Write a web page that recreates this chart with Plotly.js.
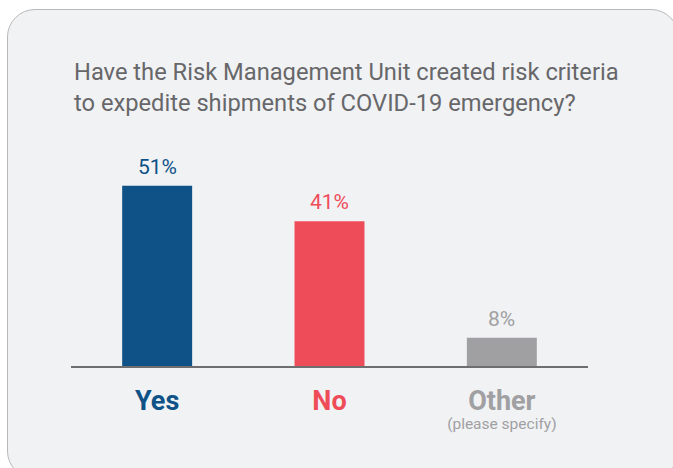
<!DOCTYPE html>
<html>
<head>
<meta charset="utf-8">
<script src="https://cdn.plot.ly/plotly-3.0.1.min.js"></script>
<style>
  html, body { margin: 0; padding: 0; background: #ffffff; }
  #wrap { position: relative; width: 673px; height: 468px; overflow: hidden; }
  #panel { position: absolute; left: 7px; top: 9px; width: 672px; height: 470px;
           background: #f1f2f4; border: 1.5px solid #b9b9bb; border-radius: 28px; box-sizing: border-box; }
  #chart { position: absolute; left: 0; top: 0; width: 673px; height: 468px; }
</style>
</head>
<body>
<div id="wrap">
  <div id="panel"></div>
  <div id="chart"></div>
</div>
<script>
const categories = ["Yes", "No", "Other"];
const subLabels = ["", "", "(please specify)"];
const values = [51, 41, 8];
const valueLabels = ["51%", "41%", "8%"];
const colors = ["#0e5287", "#ef4c5a", "#a0a0a3"];
const titleText = "Have the Risk Management Unit created risk criteria<br>to expedite shipments of COVID-19 emergency?";

const tickText = categories.map((c, i) => {
  let s = "<span style='font-size:27px;color:" + colors[i] + "'><b>" + c + "</b></span>";
  if (subLabels[i]) s += "<br><span style='font-size:15.5px;color:" + colors[i] + "'>" + subLabels[i] + "</span>";
  return s;
});

const trace = {
  type: "bar",
  x: categories,
  y: values,
  marker: { color: colors, line: { width: 0 } },
  width: 0.406,
  hoverinfo: "none"
};

const valueAnnotations = categories.map((c, i) => ({
  x: c,
  y: values[i],
  xref: "x",
  yref: "y",
  text: valueLabels[i],
  showarrow: false,
  xanchor: "center",
  yanchor: "bottom",
  yshift: 5,
  font: { family: "Roboto", size: 21, color: colors[i] }
}));

const layout = {
  width: 673,
  height: 468,
  margin: { l: 71, r: 85, t: 154, b: 102 },
  paper_bgcolor: "rgba(0,0,0,0)",
  plot_bgcolor: "rgba(0,0,0,0)",
  font: { family: "Roboto", color: "#6b6b6d" },
  showlegend: false,
  title: {
    text: titleText,
    font: { family: "Roboto", size: 23.7, color: "#67676a" },
    xref: "container", yref: "container",
    x: 74 / 673, xanchor: "left",
    y: 1 - 80 / 468, yanchor: "top"
  },
  annotations: valueAnnotations,
  xaxis: {
    type: "category",
    range: [-0.5, 2.5],
    tickmode: "array",
    tickvals: categories,
    ticktext: tickText,
    ticks: "outside",
    ticklen: 26,
    tickcolor: "rgba(0,0,0,0)",
    tickfont: { family: "Roboto", size: 14 },
    showline: true,
    linecolor: "#6e6e70",
    linewidth: 1.5,
    showgrid: false,
    zeroline: false,
    fixedrange: true
  },
  yaxis: {
    range: [0, 60],
    visible: false,
    showgrid: false,
    zeroline: false,
    fixedrange: true
  }
};

Plotly.newPlot("chart", [trace], layout, { displayModeBar: false, staticPlot: true });
</script>
</body>
</html>
